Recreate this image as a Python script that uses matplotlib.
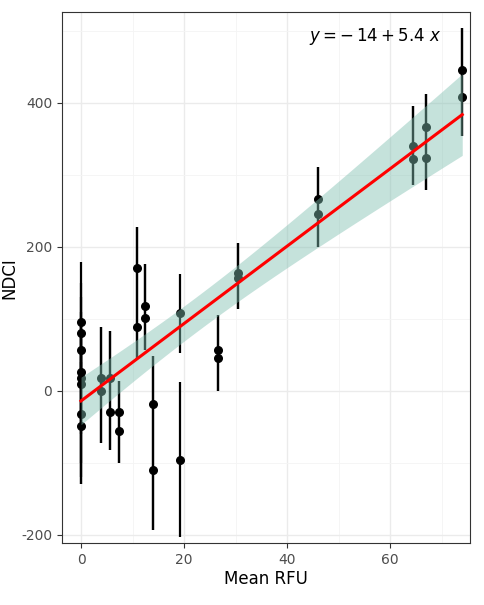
import matplotlib.pyplot as plt
import numpy as np

plt.rcParams['axes.unicode_minus'] = False

# data
x = np.array([0, 0, 0, 0, 0, 0, 0, 0, 3.8, 3.8, 5.6, 5.6, 7.4, 7.4, 10.9, 10.9,
              12.5, 12.5, 14, 14, 19.3, 19.3, 26.5, 26.5, 30.5, 30.5, 46, 46,
              64.4, 64.4, 67, 67, 74, 74])
y = np.array([95, 80, 57, 26, 18, 9, -32, -49, 17, -1, 17, -29, -29, -56, 171, 88,
              118, 101, -19, -110, 108, -96, 56, 46, 163, 157, 266, 245,
              340, 322, 366, 323, 446, 408])
lo = np.array([30, 10, -40, -60, -100, -130, -130, -120, -72, -72, -83, -83, -101, -101, 44, 44,
               56, 56, -194, -194, 53, -203, 0, 0, 113, 113, 199, 199,
               286, 286, 279, 279, 354, 354])
hi = np.array([179, 150, 130, 110, 100, 80, 60, 40, 89, 89, 83, 83, 14, 14, 228, 228,
               176, 176, 48, 48, 162, 12, 105, 105, 205, 205, 311, 311,
               395, 395, 412, 412, 504, 504])

fig = plt.figure(figsize=(4.84, 6.05), dpi=100)
ax = fig.add_axes([0.128, 0.102, 0.843, 0.878])

ax.vlines(x, lo, hi, color='black', lw=1.6, zorder=2)
ax.scatter(x, y, s=30, color='black', zorder=3)

# linear fit with 95% confidence band
b, a = np.polyfit(x, y, 1)
xs = np.linspace(x.min(), x.max(), 100)
n = len(x)
res = y - (a + b * x)
s = np.sqrt(np.sum(res ** 2) / (n - 2))
se = s * np.sqrt(1 / n + (xs - x.mean()) ** 2 / np.sum((x - x.mean()) ** 2))
yfit = a + b * xs
ax.fill_between(xs, yfit - 2.03 * se, yfit + 2.03 * se, color='#7fbfb0', alpha=0.45, lw=0, zorder=4)
ax.plot(xs, yfit, color='#ff0000', lw=2.2, zorder=5)

ax.text(0.93, 0.955, r'$y = -\,14 + 5.4\ x$', transform=ax.transAxes, ha='right', va='center', fontsize=12)

ax.set_xlim(-3.7, 75.5)
ax.set_ylim(-212, 526)
ax.set_xticks([0, 20, 40, 60])
ax.set_yticks([-200, 0, 200, 400])
ax.set_xticks([10, 30, 50, 70], minor=True)
ax.set_yticks([-100, 100, 300, 500], minor=True)
ax.grid(True, which='major', color='#ebebeb', lw=1)
ax.grid(True, which='minor', color='#f4f4f4', lw=0.6)
ax.set_axisbelow(True)
ax.tick_params(which='minor', length=0)
ax.tick_params(which='major', color='#333333', labelcolor='#4d4d4d', labelsize=10)
for sp in ax.spines.values():
    sp.set_color('#333333')
ax.set_xlabel('Mean RFU', fontsize=12, labelpad=2)
ax.set_ylabel('NDCI', fontsize=12, labelpad=2)

fig.savefig('out.png')
